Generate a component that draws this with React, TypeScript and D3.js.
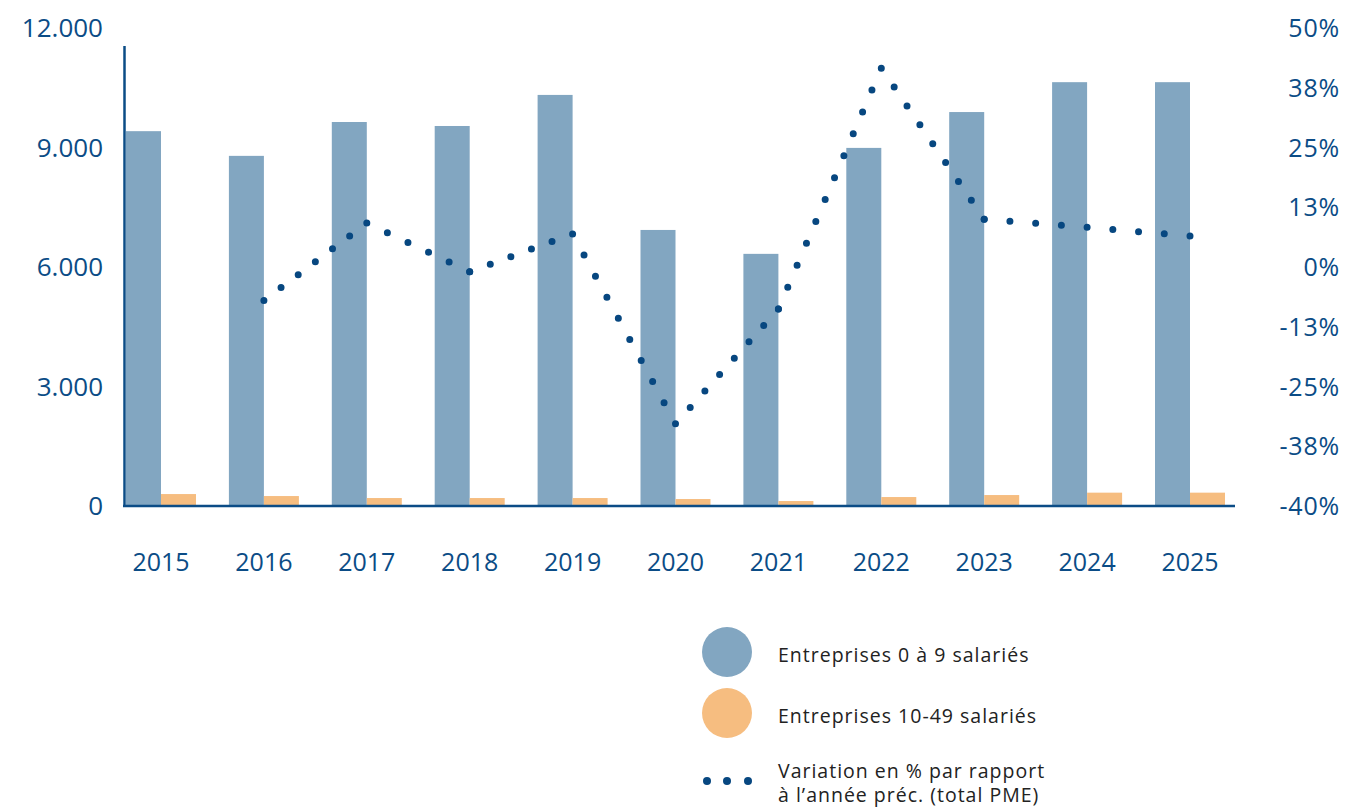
import React from 'react';
import * as d3 from 'd3';

const years = ['2015', '2016', '2017', '2018', '2019', '2020', '2021', '2022', '2023', '2024', '2025'];
const micro = [9410, 8790, 9640, 9540, 10320, 6930, 6330, 8990, 9890, 10640, 10640];
const small = [300, 250, 200, 200, 200, 175, 125, 225, 275, 335, 335];
const varYears = ['2016', '2017', '2018', '2019', '2020', '2021', '2022', '2023', '2024', '2025'];
const variation = [-7.0, 9.2, -1.0, 6.9, -32.8, -8.8, 41.6, 10.0, 8.3, 6.5];
const leftTicks = [0, 3000, 6000, 9000, 12000];
const rightTicks = [50, 37.5, 25, 12.5, 0, -12.5, -25, -37.5, -50];
const rightLabels = ['50%', '38%', '25%', '13%', '0%', '-13%', '-25%', '-38%', '-40%'];

const W = 1348;
const H = 808;
const navy = '#0b4c86';
const dotColor = '#074780';
const blue = '#82a6c1';
const orange = '#f6bd80';
const font = '"Open Sans", sans-serif';

const fr = d3.formatLocale({ decimal: ',', thousands: '.', grouping: [3], currency: ['', ' €'] });
const fmt = fr.format(',d');

const App: React.FC = () => {
  const x = d3.scalePoint<string>().domain(years).range([161, 1190]);
  const y = d3.scaleLinear().domain([0, 12000]).range([506, 28]);
  const yr = d3.scaleLinear().domain([-50, 50]).range([506, 28]);
  const barW = 35;

  const pts: [number, number][] = variation.map((v, i) => [x(varYears[i])!, yr(v)]);
  const line = d3.line();
  // each segment dotted on its own so a dot falls on every year
  const segs = d3.pairs(pts).map(([a, b]) => {
    const len = Math.hypot(b[0] - a[0], b[1] - a[1]);
    const n = Math.max(1, Math.round(len / 23));
    return { d: line([a, b]) || '', gap: len / n };
  });

  const legendStyle = { fontSize: 19.5, letterSpacing: 1 };

  return (
    <svg width={W} height={H} style={{ position: 'absolute', left: 0, top: 0, background: '#fff' }}
      fontFamily={font}>
      {years.map((yy, i) => (
        <g key={yy}>
          <rect x={x(yy)! - barW} y={y(micro[i])} width={barW} height={y(0) - y(micro[i])} fill={blue} />
          <rect x={x(yy)!} y={y(small[i])} width={barW} height={y(0) - y(small[i])} fill={orange} />
          <text x={x(yy)} y={562} dy="0.35em" textAnchor="middle" fontSize={25} fill={navy}>{yy}</text>
        </g>
      ))}

      {/* axes */}
      <line x1={124.5} x2={124.5} y1={46} y2={507} stroke={navy} strokeWidth={2.5} />
      <line x1={123} x2={1235} y1={506} y2={506} stroke={navy} strokeWidth={2.5} />

      {leftTicks.map(t => (
        <text key={t} x={103} y={y(t)} dy="0.36em" textAnchor="end" fontSize={26} fill={navy}>{fmt(t)}</text>
      ))}
      {rightTicks.map((t, i) => (
        <text key={t} x={1340} y={yr(t)} dy="0.36em" textAnchor="end" fontSize={25} letterSpacing={0.8}
          fill={navy}>{rightLabels[i]}</text>
      ))}

      {segs.map((s, i) => (
        <path key={i} d={s.d} fill="none" stroke={dotColor} strokeWidth={7}
          strokeLinecap="round" strokeDasharray={`0 ${s.gap}`} />
      ))}

      {/* legend */}
      <circle cx={727} cy={652} r={25} fill={blue} />
      <text x={778} y={655} dy="0.35em" style={legendStyle} fill="#222">Entreprises 0 à 9 salariés</text>
      <circle cx={727} cy={713} r={25} fill={orange} />
      <text x={778} y={716} dy="0.35em" style={legendStyle} fill="#222">Entreprises 10-49 salariés</text>
      {[707, 727, 748].map(cx => (
        <circle key={cx} cx={cx} cy={781} r={4} fill={dotColor} />
      ))}
      <text x={778} y={771} dy="0.35em" style={legendStyle} fill="#222">Variation en % par rapport</text>
      <text x={778} y={795} dy="0.35em" style={legendStyle} fill="#222">à l’année préc. (total PME)</text>
    </svg>
  );
};

export default App;
